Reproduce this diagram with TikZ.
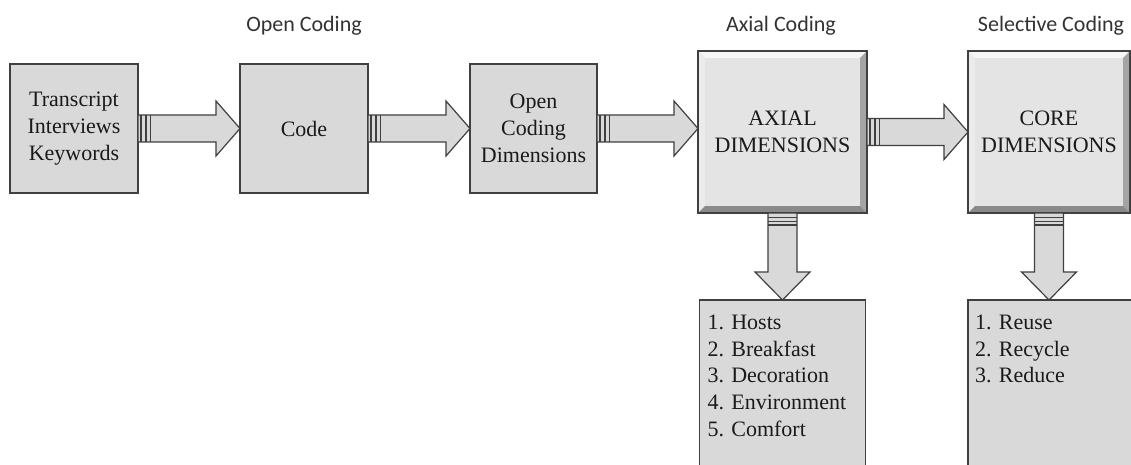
\documentclass[tikz,border=0pt]{standalone}
\usepackage{fontspec}
\setmainfont{Liberation Serif}
\newfontfamily\serifface{Liberation Serif}
\newfontfamily\titlefont{Carlito}
\usetikzlibrary{calc}

\definecolor{boxfill}{HTML}{D9D9D9}
\definecolor{boxline}{HTML}{404040}
\definecolor{facefill}{HTML}{E4E4E4}
\definecolor{bevtop}{HTML}{F6F6F6}
\definecolor{bevleft}{HTML}{EBEBEB}
\definecolor{bevright}{HTML}{A4A4A4}
\definecolor{bevbottom}{HTML}{8A8A8A}
\definecolor{inktext}{HTML}{1A1A1A}
\definecolor{titleink}{HTML}{333333}

\newcommand\boxfont{\serifface\frenchspacing\fontsize{22}{26.7}\selectfont\color{inktext}}

\tikzset{
  plainbox/.style={draw=boxline, line width=1.3pt, fill=boxfill,
    inner sep=0pt, outer sep=0pt, align=center, font=\boxfont},
  bevelbox/.style={draw=boxline, line width=1.3pt, fill=facefill,
    inner sep=0pt, outer sep=0pt, align=center, font=\boxfont,
    path picture={
      \coordinate (bnw) at (path picture bounding box.north west);
      \coordinate (bne) at (path picture bounding box.north east);
      \coordinate (bsw) at (path picture bounding box.south west);
      \coordinate (bse) at (path picture bounding box.south east);
      \fill[bevtop] (bnw) -- (bne) -- ($(bne)+(-7pt,-7pt)$) -- ($(bnw)+(7pt,-7pt)$) -- cycle;
      \fill[bevleft] (bnw) -- (bsw) -- ($(bsw)+(7pt,7pt)$) -- ($(bnw)+(7pt,-7pt)$) -- cycle;
      \fill[bevright] (bne) -- (bse) -- ($(bse)+(-7pt,7pt)$) -- ($(bne)+(-7pt,-7pt)$) -- cycle;
      \fill[bevbottom] (bsw) -- (bse) -- ($(bse)+(-7pt,7pt)$) -- ($(bsw)+(7pt,7pt)$) -- cycle;
    }},
  % list box: text sits at the top, the box runs on below the page edge
  listbox/.style={draw=boxline, line width=1.3pt, fill=boxfill,
    outer sep=0pt, inner xsep=8pt, inner ysep=15pt, align=left,
    text width=150pt, text depth=140pt, anchor=north, font=\boxfont},
  phase/.style={font=\titlefont\fontsize{22}{26}\selectfont, text=titleink, anchor=base, inner sep=0pt},
  flowarrow/.style={draw=boxline, line width=1.2pt, fill=boxfill, line join=miter},
  stripe/.style={draw=boxline, line width=1.3pt},
}

% horizontal block arrow from the east side of #1 to the west side of #2
\newcommand\hflow[2]{%
  \draw[flowarrow] let \p1=(#1.east), \p2=(#2.west) in
    (\x1,\y1+13.5pt) -- (\x2-24pt,\y1+13.5pt) -- (\x2-24pt,\y1+27.5pt)
    -- (\x2,\y1) -- (\x2-24pt,\y1-27.5pt) -- (\x2-24pt,\y1-13.5pt)
    -- (\x1,\y1-13.5pt) -- cycle;
  \draw[stripe] let \p1=(#1.east) in
    (\x1+3pt,\y1+13.5pt) -- (\x1+3pt,\y1-13.5pt)
    (\x1+8pt,\y1+13.5pt) -- (\x1+8pt,\y1-13.5pt)
    (\x1+12.5pt,\y1+13.5pt) -- (\x1+12.5pt,\y1-13.5pt);
}
% vertical block arrow from the south side of #1 to the north side of #2
\newcommand\vflow[2]{%
  \draw[flowarrow] let \p1=(#1.south), \p2=(#2.north) in
    (\x1-14.5pt,\y1) -- (\x1-14.5pt,\y2+28pt) -- (\x1-27.5pt,\y2+28pt)
    -- (\x1,\y2) -- (\x1+27.5pt,\y2+28pt) -- (\x1+14.5pt,\y2+28pt)
    -- (\x1+14.5pt,\y1) -- cycle;
  \draw[stripe] let \p1=(#1.south) in
    (\x1-14.5pt,\y1-4.5pt) -- (\x1+14.5pt,\y1-4.5pt)
    (\x1-14.5pt,\y1-8.5pt) -- (\x1+14.5pt,\y1-8.5pt)
    (\x1-14.5pt,\y1-12pt) -- (\x1+14.5pt,\y1-12pt);
}

\begin{document}
\begin{tikzpicture}[x=1pt, y=-1pt]
  \clip (0,0) rectangle (1131,465);
  \fill[white] (0,0) rectangle (1131,465);

  % coding steps
  \node[plainbox, minimum width=128pt, minimum height=129pt] (src) at (74,128.5)
    {Transcript\\Interviews\\Keywords};
  \node[plainbox, minimum width=128pt, minimum height=129pt] (code) at (304,128.5) {Code};
  \node[plainbox, minimum width=127pt, minimum height=129pt] (ocd) at (533.5,128.5)
    {Open\\Coding\\Dimensions};
  \node[bevelbox, minimum width=169pt, minimum height=162pt] (axial) at (782.5,132)
    {AXIAL\\DIMENSIONS};
  \node[bevelbox, minimum width=162pt, minimum height=162pt] (core) at (1049,132)
    {CORE\\DIMENSIONS};

  % dimension lists
  \node[listbox] (axlist) at (782.5,300)
    {1. Hosts\\2. Breakfast\\3. Decoration\\4. Environment\\5. Comfort};
  \node[listbox, text width=156pt, inner xsep=7pt] (colist) at (1053,300)
    {1. Reuse\\2. Recycle\\3. Reduce};

  % phase titles
  \node[phase] (tOpen) at (304,32) {Open Coding};
  \node[phase] (tAxial) at (781,32) {Axial Coding};
  \node[phase] (tSel) at (1051,32) {Selective Coding};

  % flow arrows
  \hflow{src}{code}
  \hflow{code}{ocd}
  \hflow{ocd}{axial}
  \hflow{axial}{core}
  \vflow{axial}{axlist}
  \vflow{core}{colist}
\end{tikzpicture}
\end{document}
